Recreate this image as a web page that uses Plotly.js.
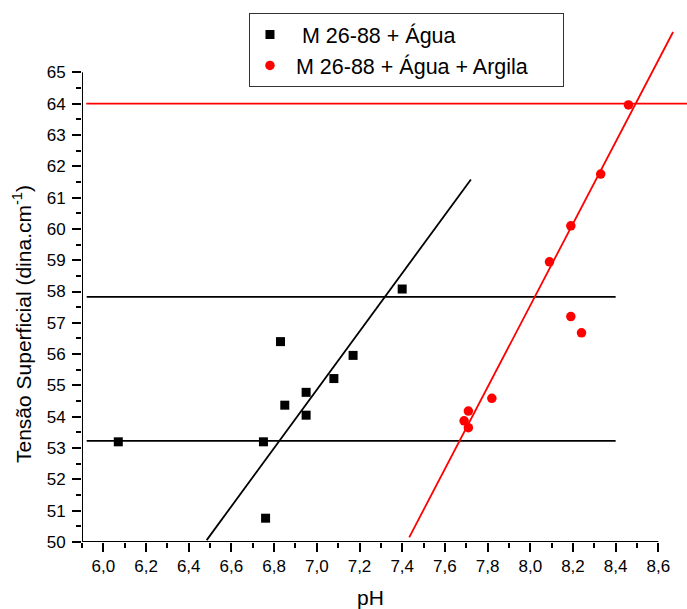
<!DOCTYPE html>
<html>
<head>
<meta charset="utf-8">
<script src="https://cdn.plot.ly/plotly-3.0.1.min.js"></script>
<style>html,body{margin:0;padding:0;background:#fff;}#chart{width:687px;height:609px;}</style>
</head>
<body>
<div id="chart"></div>
<script>
// Series: M 26-88 + Água
var phAgua = [6.07, 6.75, 6.76, 6.83, 6.85, 6.95, 6.95, 7.08, 7.17, 7.40];
var tsAgua = [53.2, 53.2, 50.76, 56.40, 54.37, 54.78, 54.05, 55.22, 55.96, 58.08];
// Series: M 26-88 + Água + Argila
var phArgila = [7.69, 7.71, 7.71, 7.82, 8.09, 8.19, 8.19, 8.24, 8.33, 8.46];
var tsArgila = [53.87, 54.18, 53.65, 54.59, 58.95, 60.10, 57.20, 56.68, 61.75, 63.96];
// Fitted lines (endpoints)
var fitAguaX = [6.484, 7.722];
var fitAguaY = [50.06, 61.58];
var fitArgilaX = [7.433, 8.669];
var fitArgilaY = [50.15, 66.29];
// Horizontal reference lines
var hAguaX = [5.922, 8.4];
var hAguaLow = [53.23, 53.23];
var hAguaHigh = [57.83, 57.83];
var hArgilaX = [5.92, 8.8];
var hArgilaY = [64.0, 64.0];
// Ticks
var xMajor = [6.0, 6.2, 6.4, 6.6, 6.8, 7.0, 7.2, 7.4, 7.6, 7.8, 8.0, 8.2, 8.4, 8.6];
var xMinor = [5.9, 6.1, 6.3, 6.5, 6.7, 6.9, 7.1, 7.3, 7.5, 7.7, 7.9, 8.1, 8.3, 8.5];
var yMajor = [50, 51, 52, 53, 54, 55, 56, 57, 58, 59, 60, 61, 62, 63, 64, 65];
var yMinor = [50.5, 51.5, 52.5, 53.5, 54.5, 55.5, 56.5, 57.5, 58.5, 59.5, 60.5, 61.5, 62.5, 63.5, 64.5];
var NB = '\u00a0';
var labelAgua = NB + NB + 'M 26-88 + Água';
var labelArgila = NB + 'M 26-88 + Água + Argila' + NB + NB + NB + NB + NB;

var FONT = 'Liberation Sans, Arial, sans-serif';
var lw = 1.8;

var traces = [
  {x: hAguaX, y: hAguaHigh, mode: 'lines', line: {color: '#000', width: lw}, showlegend: false, hoverinfo: 'skip'},
  {x: hAguaX, y: hAguaLow, mode: 'lines', line: {color: '#000', width: lw}, showlegend: false, hoverinfo: 'skip'},
  {x: hArgilaX, y: hArgilaY, mode: 'lines', line: {color: '#ff0000', width: lw}, showlegend: false, hoverinfo: 'skip'},
  {x: fitAguaX, y: fitAguaY, mode: 'lines', line: {color: '#000', width: lw}, showlegend: false, hoverinfo: 'skip'},
  {x: fitArgilaX, y: fitArgilaY, mode: 'lines', line: {color: '#ff0000', width: lw}, showlegend: false, hoverinfo: 'skip'},
  {x: phAgua, y: tsAgua, mode: 'markers', name: labelAgua,
   marker: {symbol: 'square', size: 9, color: '#000'}},
  {x: phArgila, y: tsArgila, mode: 'markers', name: labelArgila,
   marker: {symbol: 'circle', size: 9.5, color: '#ff0000'}}
];

var layout = {
  width: 687, height: 609,
  margin: {l: 82, r: 0, t: 25, b: 67, pad: 0},
  paper_bgcolor: '#fff', plot_bgcolor: '#fff',
  separators: ',.',
  font: {family: FONT, size: 17, color: '#000'},
  showlegend: true,
  legend: {
    x: 0.276, y: 1.0232, xanchor: 'left', yanchor: 'top',
    xref: 'paper', yref: 'paper',
    bgcolor: '#fff', bordercolor: '#333', borderwidth: 1,
    font: {family: FONT, size: 21.5, color: '#000'},
    tracegroupgap: 0
  },
  xaxis: {
    range: [5.9, 5.9 + 605 / 213.46],
    showline: false, showgrid: false, zeroline: false,
    tickmode: 'array', tickvals: xMajor, tickformat: '.1f',
    ticks: 'outside', ticklen: 9, tickwidth: 2, tickcolor: '#000',
    tickfont: {family: FONT, size: 17, color: '#000'},
    minor: {tickmode: 'array', tickvals: xMinor, ticks: 'outside', ticklen: 5, tickwidth: 2, tickcolor: '#000', showgrid: false}
  },
  yaxis: {
    range: [50, 50 + 517 / 31.31],
    showline: false, showgrid: false, zeroline: false,
    tickmode: 'array', tickvals: yMajor,
    ticks: 'outside', ticklen: 9, tickwidth: 2, tickcolor: '#000',
    ticklabelstandoff: 3,
    tickfont: {family: FONT, size: 17, color: '#000'},
    minor: {tickmode: 'array', tickvals: yMinor, ticks: 'outside', ticklen: 5, tickwidth: 2, tickcolor: '#000', showgrid: false}
  },
  shapes: [
    {type: 'line', xref: 'x', yref: 'y', x0: 5.9, x1: 8.6, y0: 50, y1: 50, line: {color: '#000', width: 2}},
    {type: 'line', xref: 'x', yref: 'y', x0: 5.9, x1: 5.9, y0: 50, y1: 65, line: {color: '#000', width: 2}}
  ],
  annotations: [
    {text: 'pH', xref: 'paper', yref: 'paper', x: (370 - 82) / 605, y: (542 - 597) / 517,
     xanchor: 'center', yanchor: 'middle', showarrow: false, font: {family: FONT, size: 21, color: '#000'}},
    {text: 'Tensão Superficial (dina.cm<sup>-1</sup>)', xref: 'paper', yref: 'paper',
     x: (22 - 82) / 605, y: (542 - 324) / 517, textangle: -90,
     xanchor: 'center', yanchor: 'middle', showarrow: false, font: {family: FONT, size: 21, color: '#000'}}
  ]
};

Plotly.newPlot('chart', traces, layout, {displayModeBar: false, staticPlot: true});
</script>
</body>
</html>
